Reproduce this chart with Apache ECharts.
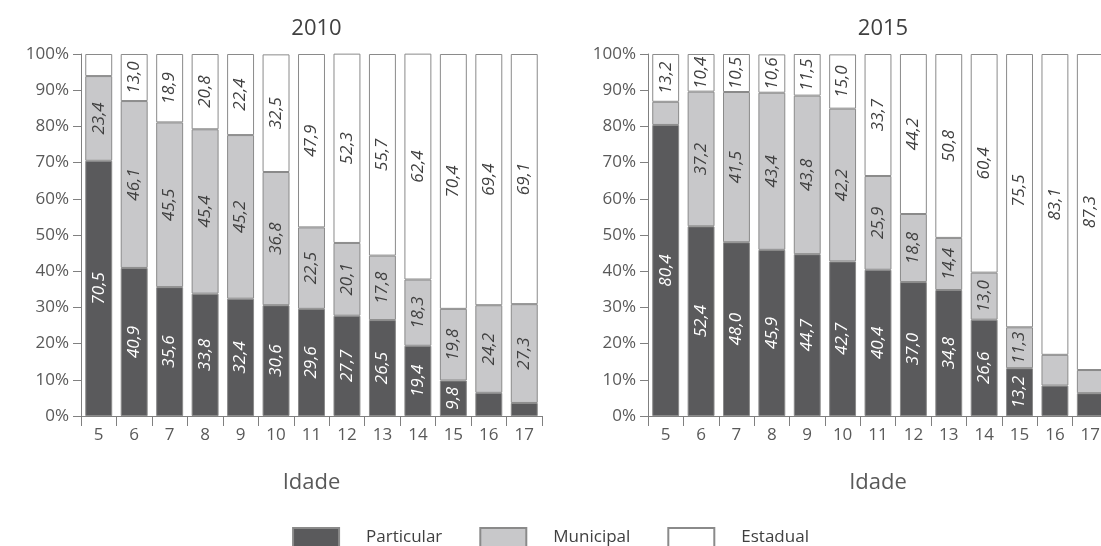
<!DOCTYPE html>
<html>
<head>
<meta charset="utf-8">
<script src="https://cdn.jsdelivr.net/npm/echarts@6/dist/echarts.min.js"></script>
<style>
html,body{margin:0;padding:0;background:#fff;}
#chart{width:1101px;height:546px;}
</style>
</head>
<body>
<div id="chart"></div>
<script>
const ages = ['5','6','7','8','9','10','11','12','13','14','15','16','17'];
const yTicks = [0,10,20,30,40,50,60,70,80,90,100];

const particular2010 = [70.5,40.9,35.6,33.8,32.4,30.6,29.6,27.7,26.5,19.4,9.8,6.4,3.6];
const municipal2010  = [23.4,46.1,45.5,45.4,45.2,36.8,22.5,20.1,17.8,18.3,19.8,24.2,27.3];
const estadual2010   = [6.1,13.0,18.9,20.8,22.4,32.5,47.9,52.3,55.7,62.4,70.4,69.4,69.1];

const particular2015 = [80.4,52.4,48.0,45.9,44.7,42.7,40.4,37.0,34.8,26.6,13.2,8.4,6.3];
const municipal2015  = [6.4,37.2,41.5,43.4,43.8,42.2,25.9,18.8,14.4,13.0,11.3,8.5,6.4];
const estadual2015   = [13.2,10.4,10.5,10.6,11.5,15.0,33.7,44.2,50.8,60.4,75.5,83.1,87.3];

const titles = ['2010','2015'];
const seriesNames = ['Particular','Municipal','Estadual'];
const xName = 'Idade';

const FONT = '"Open Sans", sans-serif';
const fills = ['#5a5a5c','#c8c8ca','#ffffff'];
const labelColors = ['#ffffff','#404040','#404040'];
const fmt = v => v.toFixed(1).replace('.', ',');

const grids = [
  {left: 81, top: 54, width: 461, height: 362, outerBoundsMode: 'none', containLabel: false},
  {left: 648, top: 54, width: 460, height: 362, outerBoundsMode: 'none', containLabel: false}
];

const xAxes = grids.map((g, i) => ({
  type: 'category', gridIndex: i, data: ages,
  axisLine: {lineStyle: {color: '#808080', width: 1}},
  axisTick: {show: true, length: 10, lineStyle: {color: '#808080'}},
  axisLabel: {color: '#595959', fontSize: 17, fontFamily: FONT, margin: 11},
  name: xName, nameLocation: 'middle', nameGap: 56,
  nameTextStyle: {color: '#595959', fontSize: 22, fontFamily: FONT}
}));

const yAxes = grids.map((g, i) => ({
  type: 'value', gridIndex: i, min: 0, max: 100, interval: 10,
  axisLine: {show: true, lineStyle: {color: '#808080', width: 1}},
  axisTick: {show: true, length: 8, lineStyle: {color: '#808080'}},
  splitLine: {show: false},
  axisLabel: {color: '#595959', fontSize: 17, fontFamily: FONT, margin: 12,
    formatter: v => yTicks.includes(v) ? v + '%' : ''}
}));

const dataSets = [
  [particular2010, municipal2010, estadual2010],
  [particular2015, municipal2015, estadual2015]
];

const series = [];
dataSets.forEach((set, gi) => {
  set.forEach((vals, si) => {
    series.push({
      name: seriesNames[si], type: 'bar', stack: 'g' + gi,
      xAxisIndex: gi, yAxisIndex: gi,
      barCategoryGap: '24%',
      data: vals,
      itemStyle: {color: fills[si], borderColor: '#8a8a8a', borderWidth: 1},
      label: {
        show: true, position: 'inside', rotate: 90,
        color: labelColors[si], fontSize: 17, fontStyle: 'italic', fontFamily: FONT,
        formatter: p => p.value >= 9 ? fmt(p.value) : ''
      },
      emphasis: {disabled: true},
      animation: false
    });
  });
});

const chart = echarts.init(document.getElementById('chart'), null, {renderer: 'canvas'});
chart.setOption({
  backgroundColor: '#ffffff',
  animation: false,
  title: titles.map((t, i) => ({
    text: t, left: grids[i].left + grids[i].width / 2, top: 13,
    textAlign: 'center',
    textStyle: {color: '#404040', fontSize: 22, fontWeight: 'normal', fontFamily: FONT}
  })),
  legend: {
    data: seriesNames, left: 'center', top: 522,
    itemWidth: 46, itemHeight: 19, itemGap: 37, icon: 'rect',
    textStyle: {color: '#404040', fontSize: 17, fontFamily: FONT, padding: [0,0,0,22]}
  },
  grid: grids,
  xAxis: xAxes,
  yAxis: yAxes,
  series: series
});
</script>
</body>
</html>
